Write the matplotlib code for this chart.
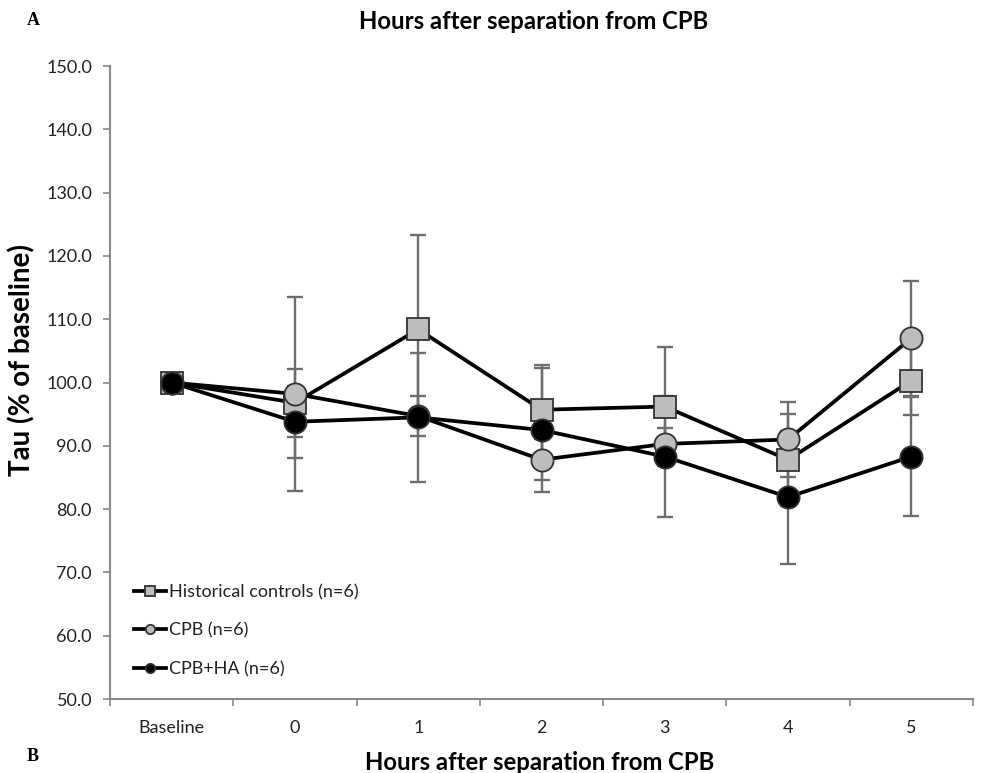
import matplotlib
matplotlib.use("Agg")
import matplotlib.pyplot as plt

categories = ["Baseline", "0", "1", "2", "3", "4", "5"]
hist_vals = [100.0, 96.8, 108.4, 95.7, 96.2, 87.8, 100.3]
hist_err = [0.0, 5.4, 14.9, 7.1, 9.4, 7.3, 5.4]
cpb_vals = [100.0, 98.2, 94.7, 87.8, 90.3, 91.0, 107.0]
cpb_err = [0.0, 15.3, 3.1, 3.2, 2.5, 5.9, 9.1]
ha_vals = [100.0, 93.8, 94.5, 92.5, 88.3, 81.9, 88.3]
ha_err = [0.0, 5.7, 10.2, 9.8, 9.5, 10.5, 9.4]
labels = ["Historical controls (n=6)", "CPB (n=6)", "CPB+HA (n=6)"]
yticks = [50, 60, 70, 80, 90, 100, 110, 120, 130, 140, 150]

plt.rcParams['font.family'] = ['Lato', 'DejaVu Sans']

fig = plt.figure(figsize=(9.87, 7.73), dpi=100)
ax = fig.add_axes([0.1115, 0.0957, 0.8743, 0.8189])

x = list(range(len(categories)))
series = [
    (hist_vals, hist_err, 's', '#bdbdbd', labels[0]),
    (cpb_vals, cpb_err, 'o', '#bdbdbd', labels[1]),
    (ha_vals, ha_err, 'o', '#000000', labels[2]),
]

for vals, err, m, fc, lab in series:
    ax.errorbar(x, vals, yerr=err, fmt='none', ecolor='#6e6e6e', elinewidth=1.7,
                capsize=6, capthick=1.7, zorder=2)

handles = []
for i, (vals, err, m, fc, lab) in enumerate(series):
    h, = ax.plot(x, vals, color='black', lw=2.7, marker=m, markersize=16 if m == 'o' else 15.5,
                 markerfacecolor=fc, markeredgecolor='#333333', markeredgewidth=1.3,
                 label=lab, zorder=3 + i)
    handles.append(h)

ax.set_xlim(-0.5, len(categories) - 0.5)
ax.set_ylim(50, 150)
ax.set_yticks(yticks)
ax.set_yticklabels([f"{v:.1f}" for v in yticks])

ax.set_xticks([i - 0.5 for i in range(len(categories) + 1)])
ax.set_xticklabels([])
ax.set_xticks(x, minor=True)
ax.set_xticklabels(categories, minor=True)
ax.tick_params(axis='x', which='minor', length=0, pad=15, labelsize=13, colors='#222222')
ax.tick_params(axis='x', which='major', length=5, width=1.2, color='#888888', direction='out')
ax.tick_params(axis='y', length=5, width=1.2, color='#888888', labelsize=13,
               labelcolor='#222222', pad=8)

for s in ['top', 'right']:
    ax.spines[s].set_visible(False)
for s in ['left', 'bottom']:
    ax.spines[s].set_color('#888888')
    ax.spines[s].set_linewidth(1.5)

ax.set_ylabel("Tau (% of baseline)", fontsize=20, fontweight='bold')
ax.yaxis.set_label_coords(-0.086, 0.535)
ax.set_xlabel("Hours after separation from CPB", fontsize=17.2, fontweight='bold')
ax.xaxis.set_label_coords(0.498, -0.082)
fig.text(0.541, 0.972, "Hours after separation from CPB", fontsize=17.2, fontweight='bold',
         ha='center', va='center')
fig.text(0.027, 0.974, "A", fontsize=13, fontweight='bold', family='Liberation Serif',
         ha='left', va='center')
fig.text(0.027, 0.021, "B", fontsize=13, fontweight='bold', family='Liberation Serif',
         ha='left', va='center')

leg = ax.legend(handles=handles, loc='lower left', bbox_to_anchor=(0.015, 0.017),
                frameon=False, fontsize=13, handlelength=1.8, handletextpad=0.15,
                labelspacing=1.25, markerscale=0.42, borderaxespad=0.2)
for t in leg.get_texts():
    t.set_color('#222222')

fig.savefig("out.png", dpi=100)
